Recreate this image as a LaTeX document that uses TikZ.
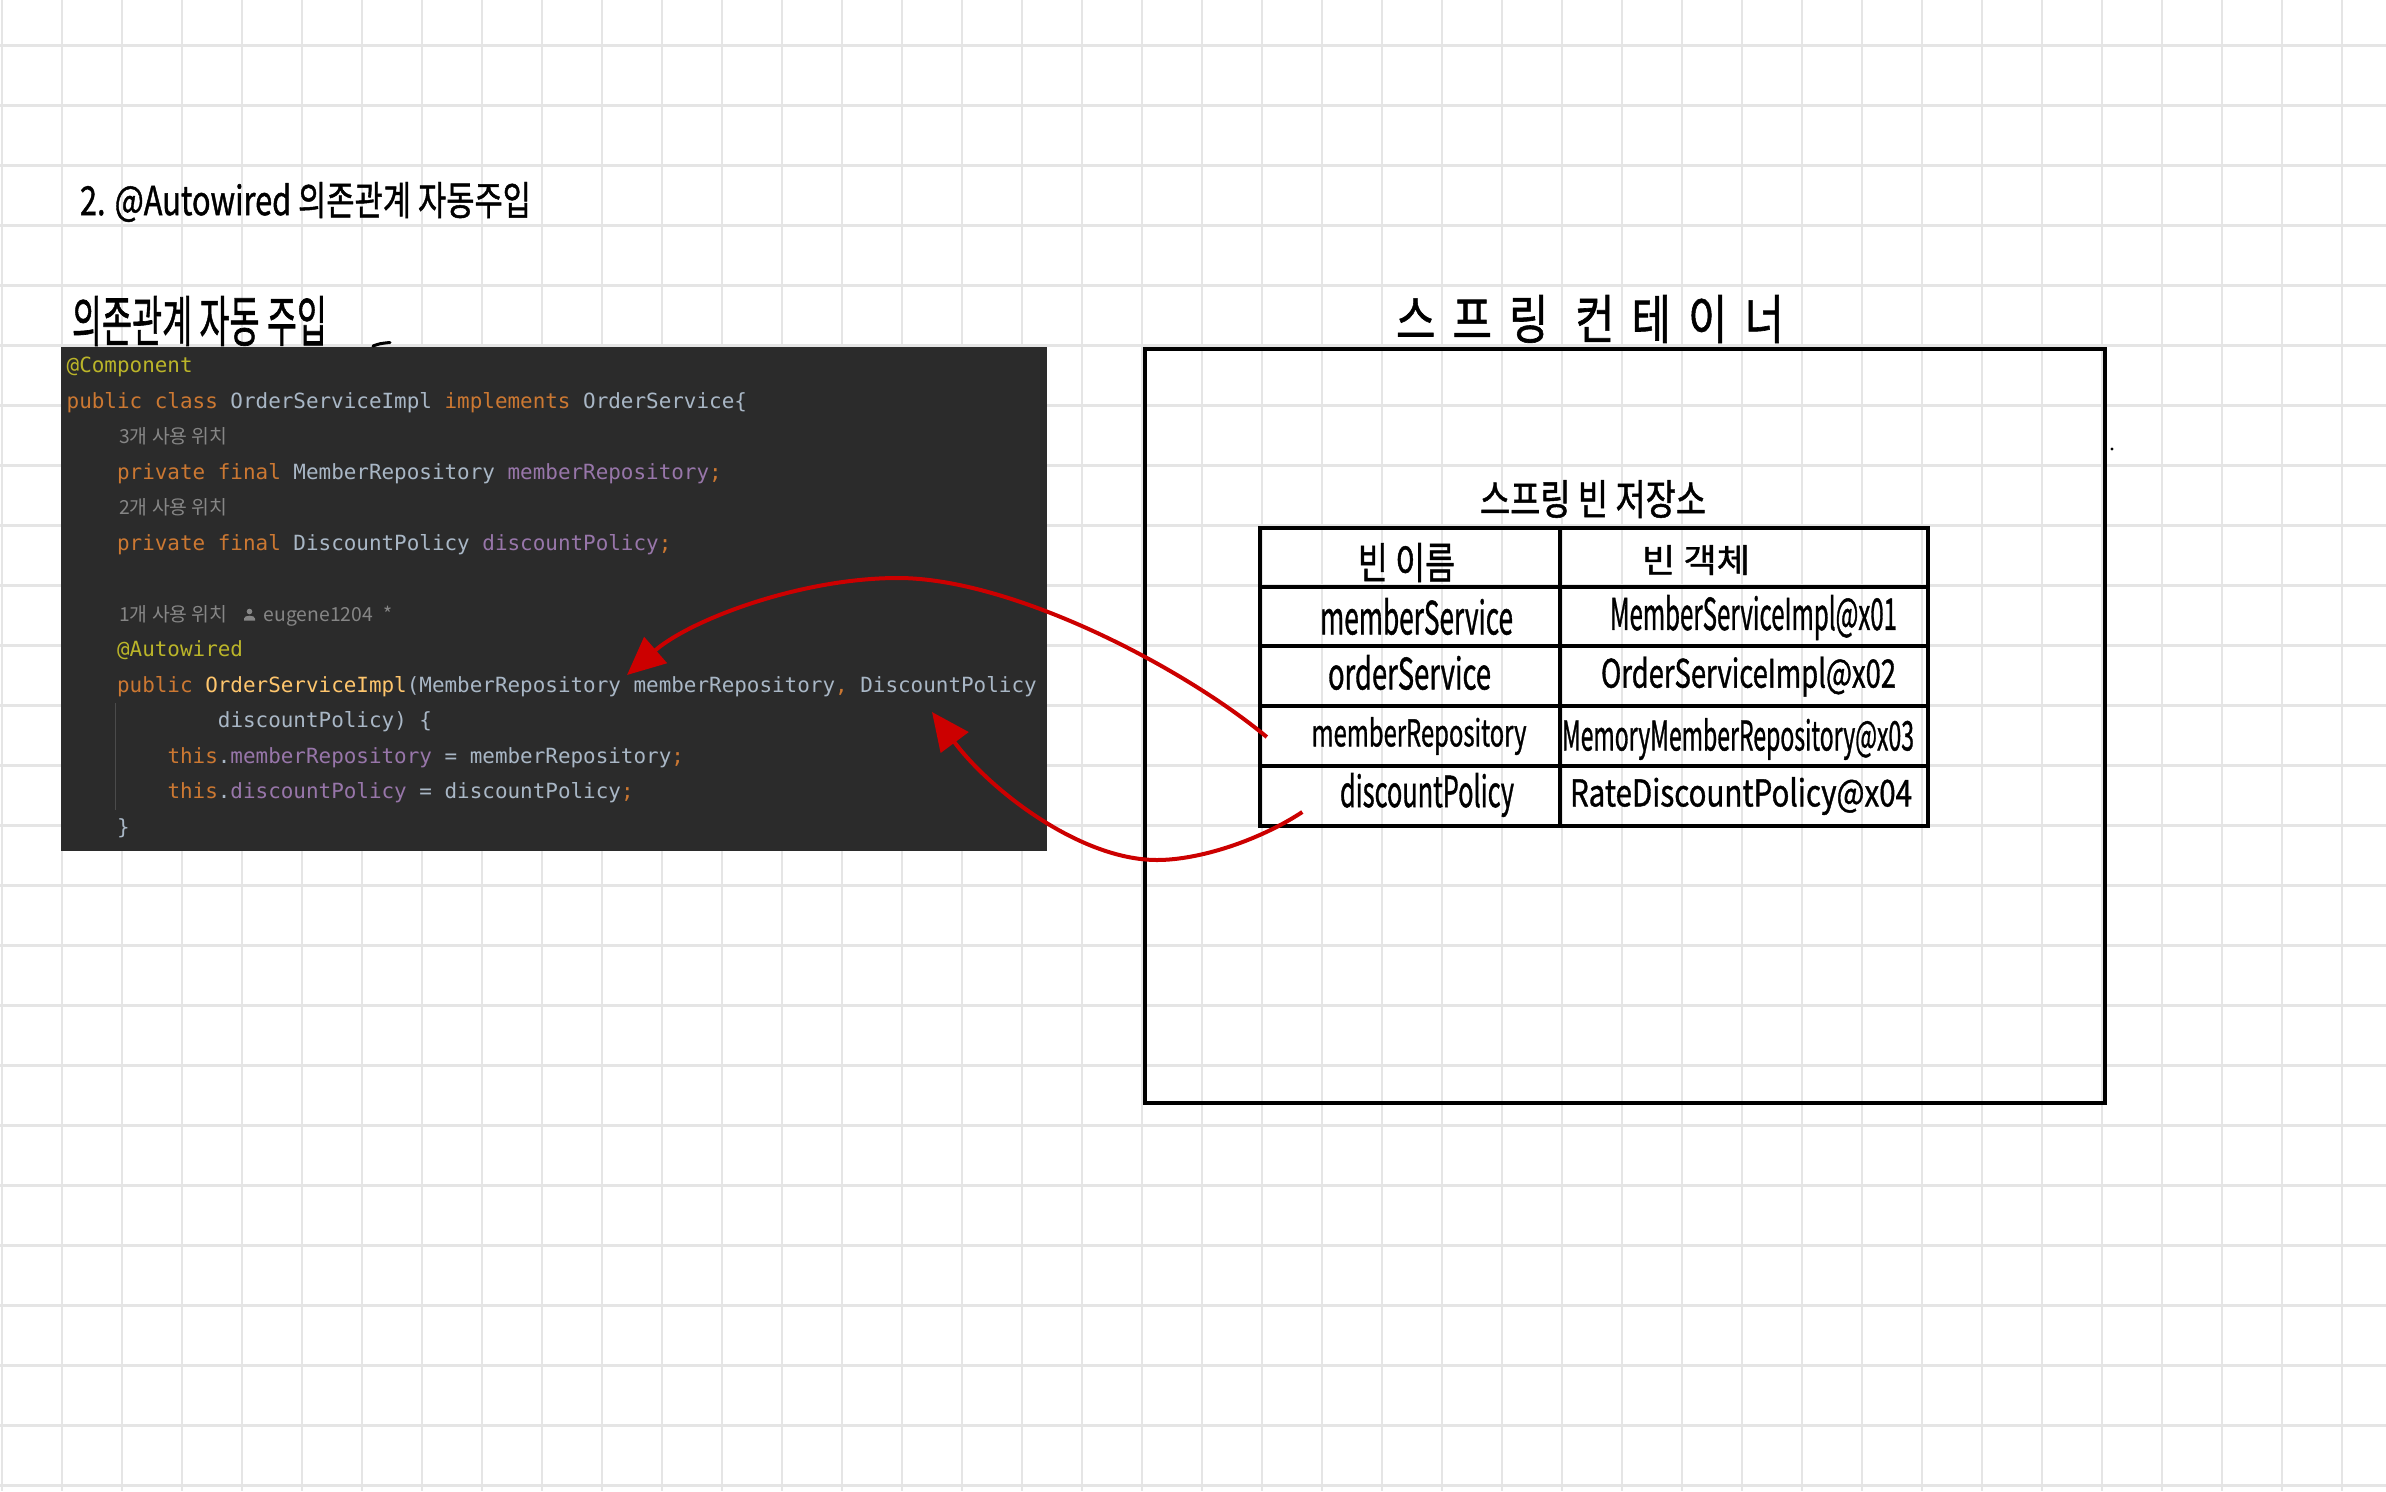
\documentclass[tikz,border=0pt]{standalone}
\usepackage{fontspec}
\usepackage{graphicx}
\usetikzlibrary{arrows.meta,positioning,calc}

\newfontfamily\handfont{Noto Sans CJK KR}[FakeBold=1.2]
\newfontfamily\notefont{Noto Sans CJK KR}
\newfontfamily\codefont{DejaVu Sans Mono}

\definecolor{gridGray}{RGB}{229,229,229}
\definecolor{ideBg}{RGB}{43,43,43}
\definecolor{ideText}{RGB}{169,183,198}
\definecolor{ideKey}{RGB}{204,120,50}
\definecolor{ideField}{RGB}{152,118,170}
\definecolor{ideAnno}{RGB}{187,181,41}
\definecolor{ideFunc}{RGB}{255,198,109}
\definecolor{ideNote}{RGB}{134,134,134}
\definecolor{penRed}{RGB}{204,0,0}

\newlength\pxu
\setlength\pxu{0.01cm}
\newcommand\hw[3]{\resizebox*{#1\pxu}{#2\pxu}{\handfont #3}}
\newcommand\kw[1]{\textcolor{ideKey}{#1}}
\newcommand\fld[1]{\textcolor{ideField}{#1}}
\newcommand\ann[1]{\textcolor{ideAnno}{#1}}
\newcommand\fnc[1]{\textcolor{ideFunc}{#1}}

\begin{document}
\begin{tikzpicture}[x=0.01cm,y=-0.01cm,
    gridline/.style={gridGray,line width=0.025cm},
    codeline/.style={anchor=base west,inner sep=0pt,text=ideText,
      font=\codefont\fontsize{5.95pt}{8pt}\selectfont},
    gutternote/.style={anchor=base west,inner sep=0pt,text=ideNote,
      font=\notefont\fontsize{5.5pt}{6.5pt}\selectfont},
    handtxt/.style={inner sep=0pt},
    boxline/.style={line width=0.04cm},
    cellline/.style={line width=0.035cm},
    redpen/.style={penRed,line width=0.04cm,-{Triangle[length=0.38cm,width=0.34cm]}}]
  \useasboundingbox (0,0) rectangle (2386,1491);
  \fill[white] (0,0) rectangle (2386,1491);
  % paper grid
  \foreach \gx in {0,...,39}
    \draw[gridline] ({2+60*\gx},0) -- ({2+60*\gx},1491);
  \foreach \gy in {0,...,24}
    \draw[gridline] (0,{45.7+60*\gy}) -- (2386,{45.7+60*\gy});

  % headings
  \node[handtxt] (title) at (305.5,202) {\hw{451}{40}{2. @Autowired 의존관계 자동주입}};
  \node[handtxt] (subTitle) at (199.5,321) {\hw{255}{50}{의존관계 자동 주입}};

  % code screenshot
  \fill[ideBg] (61,347) rectangle (1047,851);
  \draw[ideBg!85!white,line width=0.01cm] (115,703) -- (115,810);
  \node[codeline] (ln0) at (66,372.5) {\ann{@Component}};
  \node[codeline] (ln1) at (66,408) {\kw{public class} OrderServiceImpl \kw{implements} OrderService\{};
  \node[gutternote] (use3) at (118.5,443.5) {3개 사용 위치};
  \node[codeline] (ln3) at (116.4,479) {\kw{private final} MemberRepository \fld{memberRepository}\kw{;}};
  \node[gutternote] (use2) at (118.5,514.5) {2개 사용 위치};
  \node[codeline] (ln5) at (116.4,550) {\kw{private final} DiscountPolicy \fld{discountPolicy}\kw{;}};
  \node[gutternote] (use1) at (118.5,621) {1개 사용 위치};
  \fill[ideNote] (249.5,611.5) circle[radius=2.8];
  \fill[ideNote] (244,620.5) -- (244,618.5) .. controls (244,614.8) and (255,614.8) .. (255,618.5) -- (255,620.5) -- cycle;
  \node[gutternote] (author) at (263,621) {eugene1204};
  \node[gutternote] (star) at (383,621) {*};
  \node[codeline] (ln8) at (116.4,656.5) {\ann{@Autowired}};
  \node[codeline] (ln9) at (116.4,692) {\kw{public} \fnc{OrderServiceImpl}(MemberRepository memberRepository\kw{,} DiscountPolicy};
  \node[codeline] (ln10) at (217.2,727.5) {discountPolicy) \{};
  \node[codeline] (ln11) at (166.8,763) {\kw{this}.\fld{memberRepository} = memberRepository\kw{;}};
  \node[codeline] (ln12) at (166.8,798.5) {\kw{this}.\fld{discountPolicy} = discountPolicy\kw{;}};
  \node[codeline] (ln13) at (116.4,834) {\}};
  \draw[line width=0.03cm,line cap=round] (373,346) .. controls (380,343.5) .. (390,342.5);

  % spring container
  \node[handtxt] (container) at (1590,319) {\hw{388}{48}{\addfontfeature{LetterSpace=40}스프링 컨테이너}};
  \draw[boxline] (1145,348.5) rectangle (2104.5,1103);
  \fill (2112,449) circle[radius=1.6];
  \node[handtxt] (store) at (1593,499) {\hw{226}{38}{스프링 빈 저장소}};

  % bean table
  \draw[cellline] (1260,528) rectangle (1928,826);
  \draw[cellline] (1560,528) -- (1560,826);
  \foreach \ry in {587,646,706,766}
    \draw[cellline] (1260,\ry) -- (1928,\ry);
  \node[handtxt] (hdName) at (1406.5,562.5) {\hw{97}{39}{빈 이름}};
  \node[handtxt] (hdObj) at (1696,560) {\hw{108}{30}{빈 객체}};
  \node[handtxt] (nmMemSvc) at (1416.5,616.5) {\hw{193}{37}{memberService}};
  \node[handtxt] (objMemSvc) at (1753.5,617.5) {\hw{287}{45}{MemberServiceImpl@x01}};
  \node[handtxt] (nmOrdSvc) at (1409.5,672.5) {\hw{163}{35}{orderService}};
  \node[handtxt] (objOrdSvc) at (1748.5,676.5) {\hw{295}{40}{OrderServiceImpl@x02}};
  \node[handtxt] (nmRepo) at (1419,736) {\hw{215}{38}{memberRepository}};
  \node[handtxt] (objRepo) at (1738,739) {\hw{352}{42}{MemoryMemberRepository@x03}};
  \node[handtxt] (nmDisc) at (1427,795) {\hw{174}{44}{discountPolicy}};
  \node[handtxt] (objDisc) at (1741,796) {\hw{342}{38}{RateDiscountPolicy@x04}};

  % injection arrows
  \coordinate (repoOut) at ($(nmRepo.west)+(-44,1)$);
  \coordinate (repoIn) at (627,675);
  \coordinate (discOut) at ($(nmDisc.west)+(-37,17)$);
  \coordinate (discIn) at (932,712);
  \draw[redpen] (repoOut) .. controls (1180,665) and (1010,578) .. (898,578)
    .. controls (800,578) and (690,620) .. (repoIn);
  \draw[redpen] (discOut) .. controls (1260,840) and (1200,860) .. (1157,860)
    .. controls (1080,860) and (990,790) .. (discIn);
\end{tikzpicture}
\end{document}
